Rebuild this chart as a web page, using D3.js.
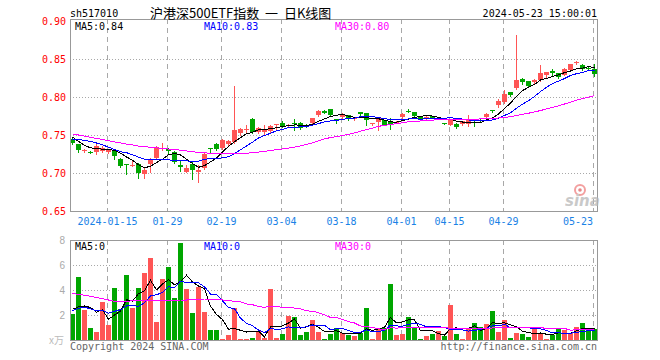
<!DOCTYPE html>
<html>
<head>
<meta charset="utf-8">
<title>沪港深500ETF指数 日K线图</title>
<script src="https://cdn.jsdelivr.net/npm/d3@7"></script>
<style>
  html, body { margin: 0; padding: 0; background: #fff; }
  svg { display: block; }
  .mono { font-family: "DejaVu Sans Mono", "Liberation Mono", monospace; font-size: 10px; }
</style>
</head>
<body>
<svg id="chart" width="660" height="360"></svg>
<script>
// trading days shown on the chart
const dates = [
  "2024-01-05","2024-01-08","2024-01-09","2024-01-10","2024-01-11","2024-01-12",
  "2024-01-15","2024-01-16","2024-01-17","2024-01-18","2024-01-19",
  "2024-01-22","2024-01-23","2024-01-24","2024-01-25","2024-01-26",
  "2024-01-29","2024-01-30","2024-01-31","2024-02-01","2024-02-02",
  "2024-02-05","2024-02-06","2024-02-07","2024-02-08",
  "2024-02-19","2024-02-20","2024-02-21","2024-02-22","2024-02-23",
  "2024-02-26","2024-02-27","2024-02-28","2024-02-29","2024-03-01",
  "2024-03-04","2024-03-05","2024-03-06","2024-03-07","2024-03-08",
  "2024-03-11","2024-03-12","2024-03-13","2024-03-14","2024-03-15",
  "2024-03-18","2024-03-19","2024-03-20","2024-03-21","2024-03-22",
  "2024-03-25","2024-03-26","2024-03-27","2024-03-28","2024-03-29",
  "2024-04-01","2024-04-02","2024-04-03",
  "2024-04-08","2024-04-09","2024-04-10","2024-04-11","2024-04-12",
  "2024-04-15","2024-04-16","2024-04-17","2024-04-18","2024-04-19",
  "2024-04-22","2024-04-23","2024-04-24","2024-04-25",
  "2024-04-29","2024-04-30",
  "2024-05-06","2024-05-07","2024-05-08","2024-05-09","2024-05-10",
  "2024-05-13","2024-05-14","2024-05-15","2024-05-16","2024-05-17",
  "2024-05-20","2024-05-21","2024-05-22","2024-05-23"
];

const openPrices = [
  .7445,.7375,.7285,.728,.728,.729,.727,.729,.719,.7115,
  .710,.712,.699,.712,.720,.731,.732,.728,.711,.7015,
  .7115,.7015,.707,.7325,.7375,.733,.7375,.7405,.752,.757,
  .7713,.7537,.7546,.755,.764,.7661,.7625,.7655,.7661,.7638,
  .7661,.776,.7822,.7836,.7705,.774,.7757,.771,.780,.779,
  .7645,.767,.7695,.7668,.766,.774,.7815,.780,.774,.7715,
  .7745,.772,.7655,.7638,.765,.764,.764,.7675,.770,.774,
  .7825,.789,.7935,.8065,.812,.824,.821,.8195,.823,.8287,
  .834,.831,.8296,.836,.845,.8415,.838,.8375
];
const highPrices = [
  .748,.738,.7315,.7285,.7375,.735,.731,.730,.720,.7115,
  .717,.713,.707,.720,.735,.739,.733,.729,.7155,.711,
  .7145,.711,.7275,.7325,.739,.745,.743,.815,.759,.7638,
  .772,.760,.7638,.7635,.7651,.768,.7645,.7704,.767,.7645,
  .773,.783,.7825,.784,.7715,.779,.776,.773,.7805,.7795,
  .766,.774,.770,.7726,.768,.779,.784,.7805,.775,.775,
  .775,.7735,.766,.770,.766,.769,.7757,.770,.773,.779,
  .7835,.797,.809,.807,.882,.825,.8215,.824,.8415,.8335,
  .837,.832,.838,.844,.847,.843,.840,.843
];
const lowPrices = [
  .738,.727,.727,.726,.725,.727,.726,.718,.708,.699,
  .709,.694,.694,.701,.719,.730,.726,.713,.7025,.701,
  .6915,.6885,.705,.728,.730,.731,.736,.739,.750,.753,
  .753,.752,.7507,.753,.7572,.760,.761,.7572,.7585,.7605,
  .765,.775,.779,.775,.766,.773,.770,.770,.775,.7638,
  .7635,.757,.763,.758,.7655,.771,.780,.773,.771,.771,
  .772,.771,.764,.763,.759,.763,.7625,.7625,.767,.772,
  .780,.7875,.7925,.801,.8105,.8165,.8145,.818,.8205,.826,
  .829,.8255,.829,.8355,.844,.836,.836,.8275
];
const closePrices = [
  .7397,.7305,.730,.7265,.736,.733,.730,.723,.709,.7105,
  .711,.700,.704,.719,.7345,.733,.729,.7145,.7075,.707,
  .704,.7045,.7255,.732,.732,.744,.742,.756,.758,.758,
  .7537,.7595,.7582,.7616,.765,.7625,.7635,.764,.7595,.7616,
  .7726,.7822,.7796,.7757,.770,.778,.7713,.772,.777,.7695,
  .7655,.7726,.7638,.7651,.767,.777,.781,.7755,.7715,.774,
  .7725,.773,.765,.7695,.760,.768,.7695,.766,.768,.777,
  .782,.7945,.8035,.802,.823,.8195,.815,.823,.832,.8326,
  .832,.8265,.837,.843,.846,.837,.837,.8305
];
// volume, in 万
const volumes = [
  2.08,5.04,2.4,0.96,0.64,3.07,1.2,4.13,2.48,5.2,
  2.56,4.16,5.36,6.56,1.44,4.88,5.84,3.36,7.76,4.08,
  2.16,4.24,2.24,0.8,0.8,0.08,0.4,2.53,0.08,0.1,
  0.16,0.75,0.19,4.05,0.16,0.48,1.92,1.81,0.4,0.64,
  1.6,0.64,0.08,0.48,0.93,0.59,0.4,0.32,0.53,2.56,
  0.08,0.93,0.93,4.48,0.4,0.48,1.81,0.93,0.08,0.32,
  0.48,0.72,0.32,2.83,0.48,0.08,0.93,1.33,1.04,1.28,
  2.35,0.64,1.6,0.16,0.56,0.48,0.24,1.04,0.48,0.08,
  0.4,0.88,0.8,0.53,1.04,1.36,0.88,0.88
];

const priceMa5Head = [.7475,.7415,.7365,.733];
const priceMa10Head = [.7445,.744,.743,.7415,.7395,.737,.734,.731,.728];
const priceMa30Head = [
  .7515,.750,.7485,.747,.7455,.744,.7425,.741,.7395,.738,
  .737,.7355,.7345,.734,.733,.7325,.7315,.731,.730,.729,
  .728,.727,.7265,.726,.7255,.7255,.7255,.726,.726
];
const volMa5Head = [2.45,2.65,2.72,2.6];
const volMa10Head = [2.35,2.53,2.62,2.5,2.32,2.38,2.15,2.3,2.42];
const volMa30Head = [
  3.72,3.65,3.58,3.5,3.4,3.3,3.2,3.1,3.07,3.08,
  3.15,3.18,3.15,3.15,3.15,3.15,3.15,3.17,3.2,3.2,
  3.22,3.26,3.28,3.28,3.28,3.2,3.15,3.1,3.05
];

const tickDates = ["2024-01-15","2024-01-29","2024-02-19","2024-03-04","2024-03-18","2024-04-01","2024-04-15","2024-04-29","2024-05-23"];
const tickLabels = ["2024-01-15","01-29","02-19","03-04","03-18","04-01","04-15","04-29","05-23"];
const priceTicks = [0.65, 0.70, 0.75, 0.80, 0.85, 0.90];
const volumeTicks = [2, 4, 6, 8];
const priceLegend = ["MA5:0.84", "MA10:0.83", "MA30:0.80"];
const volumeLegend = ["MA5:0", "MA10:0", "MA30:0"];

const RED = "#ff5555";
const GREEN = "#00a600";
const MA_COLORS = ["#000000", "#0000ff", "#ff00ff"];
const GRID = "#a8a8a8";

/**
 * Moving average of the last n values; days without enough history use the head values.
 */
function movingAverage(values, n, head) {
    return values.map((v, i) => i < n - 1 ? head[i] : d3.mean(values.slice(i - n + 1, i + 1)));
}

class KLineChart {
    constructor(svgSelector) {
        this.svg = d3.select(svgSelector);
        this.left = 70;
        this.right = 597;
        this.x = d3.scaleBand().domain(dates).range([69.5, 597.5]);
        this.yPrice = d3.scaleLinear().domain([0.65, 0.90]).range([211, 21]);
        this.yVol = d3.scaleLinear().domain([0, 8]).range([340, 240]);
    }

    center(d) {
        return this.x(d) + this.x.bandwidth() / 2;
    }

    drawFrame(top, bottom, hLines) {
        const g = this.svg.append('g').attr('shape-rendering', 'crispEdges');
        // dotted horizontal grid
        g.selectAll(null).data(hLines).join('line')
            .attr('x1', this.left).attr('x2', this.right)
            .attr('y1', d => Math.round(d) + 0.5).attr('y2', d => Math.round(d) + 0.5)
            .attr('stroke', GRID).attr('stroke-dasharray', '1,2');
        // dashed vertical lines on the date ticks
        g.selectAll(null).data(tickDates).join('line')
            .attr('x1', d => Math.round(this.center(d) - 2) + 0.5)
            .attr('x2', d => Math.round(this.center(d) - 2) + 0.5)
            .attr('y1', top).attr('y2', bottom)
            .attr('stroke', GRID).attr('stroke-dasharray', '5,4');
    }

    drawBorder(top, bottom) {
        this.svg.append('path')
            .attr('d', `M${this.left + 0.5},${top + 0.5}H${this.right + 0.5}V${bottom + 0.5}H${this.left + 0.5}Z`)
            .attr('fill', 'none').attr('stroke', '#999').attr('shape-rendering', 'crispEdges');
    }

    drawLegend(labels, y) {
        const xs = [75, 204, 335];
        this.svg.append('g').attr('class', 'mono')
            .selectAll('text').data(labels).join('text')
            .attr('x', (d, i) => xs[i]).attr('y', y)
            .attr('fill', (d, i) => MA_COLORS[i]).text(d => d);
    }

    drawLines(series, yScale) {
        const line = d3.line().x((d, i) => this.center(dates[i])).y(d => yScale(d));
        this.svg.append('g').attr('shape-rendering', 'crispEdges')
            .selectAll('path').data(series).join('path')
            .attr('d', line).attr('fill', 'none')
            .attr('stroke', (d, i) => MA_COLORS[i]).attr('stroke-width', 1);
    }

    drawPricePanel() {
        const y = this.yPrice;
        this.drawFrame(19, 211, [0.70, 0.75, 0.80, 0.85].map(y));

        const bars = dates.map((d, i) => ({
            date: d, o: openPrices[i], h: highPrices[i], l: lowPrices[i], c: closePrices[i]
        }));
        const g = this.svg.append('g').attr('shape-rendering', 'crispEdges');
        g.selectAll('line').data(bars).join('line')
            .attr('x1', d => this.center(d.date)).attr('x2', d => this.center(d.date))
            .attr('y1', d => Math.round(y(d.h))).attr('y2', d => Math.round(y(d.l)) + 1)
            .attr('stroke', d => d.c >= d.o ? RED : GREEN);
        g.selectAll('rect').data(bars).join('rect')
            .attr('x', d => this.center(d.date) - 2.5)
            .attr('width', 5)
            .attr('y', d => Math.round(y(Math.max(d.o, d.c))))
            .attr('height', d => Math.max(1, Math.round(y(Math.min(d.o, d.c))) - Math.round(y(Math.max(d.o, d.c)))))
            .attr('fill', d => d.c >= d.o ? RED : GREEN);

        this.drawLines([
            movingAverage(closePrices, 5, priceMa5Head),
            movingAverage(closePrices, 10, priceMa10Head),
            movingAverage(closePrices, 30, priceMa30Head)
        ], y);
        this.drawBorder(19, 211);

        this.svg.append('g').attr('class', 'mono')
            .selectAll('text').data(priceTicks).join('text')
            .attr('x', 66).attr('y', d => y(d) + 4)
            .attr('text-anchor', 'end').attr('fill', '#ff0000')
            .text(d => d.toFixed(2));

        this.svg.append('g').attr('class', 'mono')
            .selectAll('text').data(tickDates).join('text')
            .attr('x', (d, i) => Math.round(this.center(d) - 2) + (i === tickDates.length - 1 ? 0 : 0.5))
            .attr('y', 225)
            .attr('text-anchor', (d, i) => i === tickDates.length - 1 ? 'end' : 'middle')
            .attr('fill', '#1a82e6')
            .text((d, i) => tickLabels[i]);

        this.drawLegend(priceLegend, 29.5);
    }

    drawVolumePanel() {
        const y = this.yVol;
        this.drawFrame(240, 340, [2, 4, 6].map(y));

        const g = this.svg.append('g').attr('shape-rendering', 'crispEdges');
        g.selectAll('rect').data(dates).join('rect')
            .attr('x', d => this.center(d) - 2.5)
            .attr('width', 5)
            .attr('y', (d, i) => Math.round(y(volumes[i])))
            .attr('height', (d, i) => Math.max(1, 340 - Math.round(y(volumes[i]))))
            .attr('fill', (d, i) => closePrices[i] >= openPrices[i] ? RED : GREEN);

        this.drawLines([
            movingAverage(volumes, 5, volMa5Head),
            movingAverage(volumes, 10, volMa10Head),
            movingAverage(volumes, 30, volMa30Head)
        ], y);
        this.drawBorder(240, 340);

        this.svg.append('g')
            .style('font-family', '"Liberation Sans", Arial, sans-serif').style('font-size', '10px')
            .selectAll('text').data(volumeTicks).join('text')
            .attr('x', 65).attr('y', d => y(d) + 4)
            .attr('text-anchor', 'end').attr('fill', '#aaa')
            .text(d => d);
        this.svg.append('text')
            .attr('x', 64).attr('y', 344).attr('text-anchor', 'end')
            .style('font-family', '"Noto Sans CJK SC", sans-serif').style('font-size', '10px')
            .attr('fill', '#bbb').text('x万');

        this.drawLegend(volumeLegend, 249.5);
    }

    drawTexts() {
        const mono = this.svg.append('g').attr('class', 'mono');
        mono.append('text').attr('x', 70).attr('y', 16.5).attr('fill', '#000').text('sh517010');
        mono.append('text').attr('x', 597).attr('y', 16.5).attr('text-anchor', 'end')
            .attr('fill', '#000').text('2024-05-23 15:00:01');
        mono.append('text').attr('x', 70).attr('y', 349.5).attr('fill', '#666').text('Copyright 2024 SINA.COM');
        mono.append('text').attr('x', 597).attr('y', 349.5).attr('text-anchor', 'end')
            .attr('fill', '#666').text('http://finance.sina.com.cn');

        this.svg.append('text')
            .attr('x', 150).attr('y', 17.5)
            .style('font-family', '"Noto Sans CJK SC", sans-serif').style('font-size', '13px')
            .style('white-space', 'pre')
            .attr('fill', '#000')
            .text('沪港深500ETF指数  一  日K线图');

        // sina watermark
        const logo = this.svg.append('g').attr('opacity', 0.75);
        logo.append('circle').attr('cx', 580).attr('cy', 190).attr('r', 5)
            .attr('fill', 'none').attr('stroke', '#f08080').attr('stroke-width', 2);
        logo.append('circle').attr('cx', 580).attr('cy', 190).attr('r', 1.8).attr('fill', '#e06060');
        logo.append('text').attr('x', 565).attr('y', 206)
            .style('font-family', '"DejaVu Sans", sans-serif').style('font-size', '15px')
            .style('font-weight', 'bold').style('font-style', 'italic')
            .attr('fill', '#b8b8b8').text('sina');
    }

    render() {
        try {
            this.drawPricePanel();
            this.drawVolumePanel();
            this.drawTexts();
        } catch (error) {
            console.error('Error drawing chart:', error);
        }
    }
}

const chart = new KLineChart('#chart');
chart.render();
</script>
</body>
</html>
